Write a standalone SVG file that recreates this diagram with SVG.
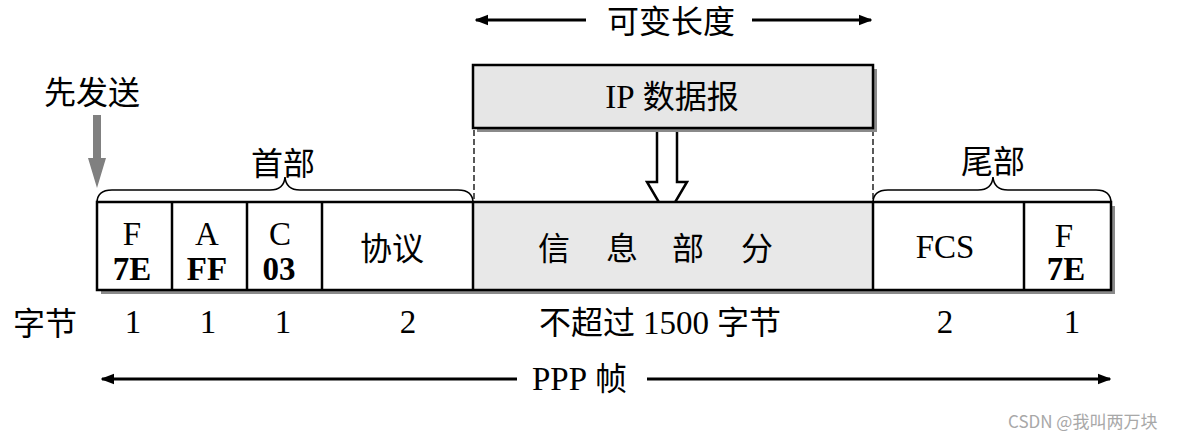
<svg xmlns="http://www.w3.org/2000/svg" width="1194" height="441" viewBox="0 0 1194 441">
<style>
.t{font-family:"Liberation Serif","Noto Sans CJK SC",serif;font-size:32px;fill:#000}
.l{font-size:33px}
.c{text-anchor:middle}
.b{font-weight:bold}
.box{stroke:#000;stroke-width:2.5}
.sh{fill:#8a8a8a}
.brace{fill:none;stroke:#000;stroke-width:1.6}
.dash{stroke:#000;stroke-width:1.3;stroke-dasharray:6,3}
.ln{stroke:#000;stroke-width:3}
</style>
<defs>
<marker id="ah" viewBox="0 0 10 10" refX="9" refY="5" markerWidth="4.5" markerHeight="4.5" orient="auto-start-reverse" markerUnits="strokeWidth">
<path d="M0,1 L10,5 L0,9 Z" fill="#000"/>
</marker>
</defs>
<rect width="1194" height="441" fill="#fff"/>

<g id="connectors">
<line class="ln" x1="586" y1="20" x2="476" y2="20" marker-end="url(#ah)"/>
<line class="ln" x1="752" y1="20" x2="871" y2="20" marker-end="url(#ah)"/>
<line class="ln" x1="517" y1="379" x2="102" y2="379" marker-end="url(#ah)"/>
<line class="ln" x1="647" y1="379" x2="1110" y2="379" marker-end="url(#ah)"/>
<line class="dash" x1="474" y1="130" x2="474" y2="201"/>
<line class="dash" x1="873" y1="130" x2="873" y2="201"/>
<polygon points="657,130 677,130 677,182 687,182 667,216 647,182 657,182" fill="#fff" stroke="#000" stroke-width="2.5" stroke-linejoin="miter"/>
<polygon points="93,115 101,115 101,158 106,158 97,188 88,158 93,158" fill="#808080"/>
</g>

<g id="label-variable">
<text class="t c" x="671" y="33">可变长度</text>
</g>
<g id="label-first">
<text class="t c" x="92" y="104">先发送</text>
</g>

<g id="ip-datagram">
<rect class="sh" x="477" y="69" width="400" height="63"/>
<rect class="box" x="473" y="65" width="400" height="63" fill="#e6e6e6"/>
<text class="t c" x="672" y="108"><tspan class="l">IP</tspan> 数据报</text>
</g>

<g id="header-brace">
<path class="brace" d="M97,203 Q97,190 112,190 L270,190 Q284,190 285,177 Q286,190 300,190 L458,190 Q473,190 473,203"/>
<text class="t c" x="283" y="175">首部</text>
</g>
<g id="trailer-brace">
<path class="brace" d="M873,203 Q873,190 888,190 L978,190 Q992,190 993,177 Q994,190 1008,190 L1096,190 Q1111,190 1111,203"/>
<text class="t c" x="993" y="173">尾部</text>
</g>

<g id="frame">
<rect class="sh" x="101" y="206" width="1014" height="88"/>
<rect x="97" y="202" width="1014" height="88" fill="#fff"/>
<rect x="473" y="202" width="400" height="88" fill="#e8e8e8"/>
<rect class="box" x="97" y="202" width="1014" height="88" fill="none"/>
<line class="box" x1="172" y1="202" x2="172" y2="290"/>
<line class="box" x1="247" y1="202" x2="247" y2="290"/>
<line class="box" x1="322" y1="202" x2="322" y2="290"/>
<line class="box" x1="473" y1="202" x2="473" y2="290"/>
<line class="box" x1="873" y1="202" x2="873" y2="290"/>
<line class="box" x1="1024" y1="202" x2="1024" y2="290"/>
</g>

<g id="cell-F1">
<text class="t l c" x="132" y="245">F</text>
<text class="t l c b" x="132" y="280">7E</text>
</g>
<g id="cell-A">
<text class="t l c" x="207" y="245">A</text>
<text class="t l c b" x="207" y="280">FF</text>
</g>
<g id="cell-C">
<text class="t l c" x="280" y="245">C</text>
<text class="t l c b" x="279" y="280">03</text>
</g>
<g id="cell-protocol">
<text class="t c" x="392" y="260">协议</text>
</g>
<g id="cell-info">
<text class="t c" x="554" y="260">信</text>
<text class="t c" x="622" y="260">息</text>
<text class="t c" x="688" y="260">部</text>
<text class="t c" x="757" y="260">分</text>
</g>
<g id="cell-FCS">
<text class="t l c" x="945" y="258">FCS</text>
</g>
<g id="cell-F2">
<text class="t l c" x="1064" y="247">F</text>
<text class="t l c b" x="1066" y="280">7E</text>
</g>

<g id="bytes-row">
<text class="t c" x="45" y="335">字节</text>
<text class="t l c" x="133" y="333">1</text>
<text class="t l c" x="208" y="333">1</text>
<text class="t l c" x="283" y="333">1</text>
<text class="t l c" x="408" y="333">2</text>
<text class="t" x="539" y="334">不超过 <tspan class="l">1500</tspan> 字节</text>
<text class="t l c" x="945" y="333">2</text>
<text class="t l c" x="1072" y="333">1</text>
</g>

<g id="label-ppp">
<text class="t" x="532" y="390"><tspan class="l">PPP</tspan> 帧</text>
</g>

<text x="1008" y="428" font-family="'Noto Sans CJK SC','Noto Sans',sans-serif" font-size="17" fill="#a8a8a8">CSDN @我叫两万块</text>
</svg>
